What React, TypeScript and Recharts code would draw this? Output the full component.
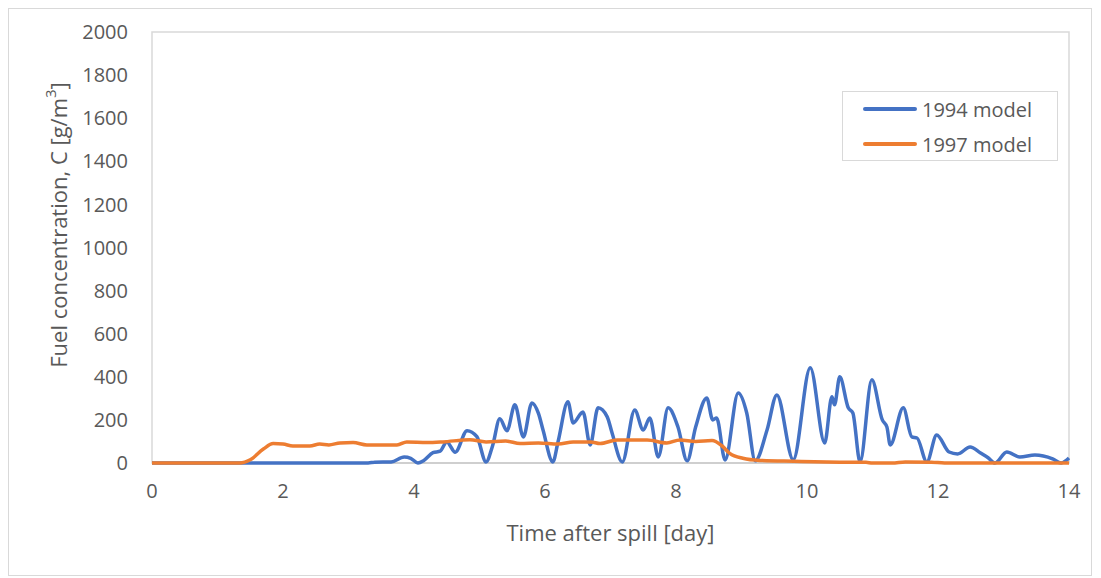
import React from "react";
import { LineChart, Line, XAxis, YAxis, Label, ReferenceArea } from "recharts";

const xTicks = [0, 2, 4, 6, 8, 10, 12, 14];
const yTicks = [0, 200, 400, 600, 800, 1000, 1200, 1400, 1600, 1800, 2000];

const blueTime = [
  0, 3.3, 3.4, 3.65, 3.85, 3.95, 4.06, 4.15, 4.29, 4.4, 4.5, 4.63, 4.81, 4.96, 5.1, 5.2, 5.31, 5.42, 5.54, 5.67,
  5.8, 5.9, 5.97, 6.12, 6.2, 6.35, 6.43, 6.58, 6.69, 6.81, 6.95, 7.02, 7.18, 7.37, 7.5, 7.6, 7.73, 7.88, 8.03,
  8.17, 8.3, 8.47, 8.56, 8.62, 8.75, 8.95, 9.08, 9.21, 9.39, 9.54, 9.79, 10.05, 10.27, 10.38, 10.42, 10.5, 10.63,
  10.7, 10.81, 10.99, 11.15, 11.22, 11.27, 11.47, 11.6, 11.68, 11.83, 11.98, 12.17, 12.3, 12.49, 12.65, 12.77,
  12.87, 13.05, 13.25, 13.48, 13.75, 13.88, 14,
];
const blueValue = [
  0, 0, 4, 5, 28, 22, 0, 12, 48, 55, 98, 50, 150, 122, 5, 80, 205, 150, 270, 121,
  279, 230, 153, 5, 100, 284, 186, 237, 84, 256, 214, 144, 5, 246, 153, 209, 28, 256, 167,
  10, 167, 302, 200, 209, 14, 325, 232, 10, 153, 316, 15, 442, 93, 307, 270, 400, 256,
  232, 5, 386, 200, 167, 84, 256, 121, 116, 5, 130, 51, 42, 74, 46, 23,
  0, 51, 28, 37, 19, 0, 23,
];

const orangeTime = [
  0, 1.34, 1.5, 1.7, 1.85, 2.0, 2.15, 2.41, 2.56, 2.7, 2.87, 3.07, 3.28, 3.74, 3.89, 4.2, 4.44, 4.85, 5.1, 5.4,
  5.62, 5.9, 6.2, 6.43, 6.7, 6.84, 7.1, 7.56, 7.86, 8.06, 8.3, 8.55, 8.7, 8.82, 9.02, 9.28, 9.8, 10.5, 10.9,
  11.0, 11.3, 11.5, 11.9, 12.1, 14,
];
const orangeValue = [
  0, 0, 15, 65, 90, 88, 79, 79, 88, 84, 93, 95, 84, 84, 98, 95, 98, 108, 98, 102,
  90, 93, 88, 98, 98, 90, 107, 107, 93, 107, 100, 104, 80, 45, 22, 12, 8, 4, 3,
  0, 0, 5, 4, 0, 0,
];

const series1994 = blueTime.map((t, i) => ({ t, c: blueValue[i] }));
const series1997 = orangeTime.map((t, i) => ({ t, c: orangeValue[i] }));

const FONT = "'Open Sans', sans-serif";
const TEXT = "#595959";
const BLUE = "#4472C4";
const ORANGE = "#ED7D31";
const BORDER = "#d9d9d9";

export default function App() {
  return (
    <div
      style={{
        position: "relative",
        width: 1082,
        height: 566,
        border: `1px solid ${BORDER}`,
        fontFamily: FONT,
        background: "#fff",
      }}
    >
      <LineChart width={1082} height={566} margin={{ top: 23, right: 22, left: 0, bottom: 32 }}>
        <ReferenceArea
          x1={0}
          x2={14}
          y1={0}
          y2={2000}
          fill="none"
          stroke={BORDER}
          strokeWidth={1.5}
          {...({ zIndex: -50 } as any)}
        />
        <XAxis
          type="number"
          dataKey="t"
          domain={[0, 14]}
          ticks={xTicks}
          height={80}
          tickLine={false}
          tickSize={0}
          tickMargin={21}
          axisLine={{ stroke: "#cfcfcf", strokeWidth: 2 }}
          tick={{ fill: TEXT, fontSize: 20, fontFamily: FONT }}
          {...({ zIndex: -40 } as any)}
        >
          <Label
            content={(props: any) => {
              const vb = props.viewBox || {};
              return (
                <text
                  x={vb.x + vb.width / 2}
                  y={vb.y + 69}
                  textAnchor="middle"
                  dominantBaseline="central"
                  fill={TEXT}
                  fontSize={22}
                  fontFamily={FONT}
                >
                  Time after spill [day]
                </text>
              );
            }}
          />
        </XAxis>
        <YAxis
          type="number"
          domain={[0, 2000]}
          ticks={yTicks}
          width={143}
          tickLine={false}
          tickSize={0}
          tickMargin={24}
          axisLine={false}
          tick={{ fill: TEXT, fontSize: 20, fontFamily: FONT }}
        >
          <Label
            content={() => {
              const cx = 49;
              const cy = 216;
              return (
                <text
                  x={cx}
                  y={cy}
                  transform={`rotate(-90 ${cx} ${cy})`}
                  textAnchor="middle"
                  dominantBaseline="central"
                  fill={TEXT}
                  fontSize={22}
                  fontFamily={FONT}
                >
                  Fuel concentration, C [g/m
                  <tspan dy={-8} fontSize={15}>3</tspan>
                  <tspan dy={8}>]</tspan>
                </text>
              );
            }}
          />
        </YAxis>
        <Line
          data={series1994}
          dataKey="c"
          name="1994 model"
          type="monotone"
          stroke={BLUE}
          strokeWidth={3.5}
          dot={false}
          activeDot={false}
          isAnimationActive={false}
          {...({ zIndex: 600 } as any)}
        />
        <Line
          data={series1997}
          dataKey="c"
          name="1997 model"
          type="monotone"
          stroke={ORANGE}
          strokeWidth={3.5}
          dot={false}
          activeDot={false}
          isAnimationActive={false}
          {...({ zIndex: 610 } as any)}
        />
      </LineChart>
      <div
        style={{
          position: "absolute",
          left: 833,
          top: 82,
          width: 214,
          height: 68,
          border: `1px solid ${BORDER}`,
          background: "#fff",
          color: TEXT,
          fontSize: 20,
          fontFamily: FONT,
        }}
      >
        {[
          { label: "1994 model", color: BLUE, y: 17 },
          { label: "1997 model", color: ORANGE, y: 52 },
        ].map((it) => (
          <div
            key={it.label}
            style={{ position: "absolute", left: 20, top: it.y - 14, height: 28, display: "flex", alignItems: "center" }}
          >
            <span style={{ display: "inline-block", width: 54, height: 4, borderRadius: 2, background: it.color }} />
            <span style={{ marginLeft: 5, whiteSpace: "nowrap" }}>{it.label}</span>
          </div>
        ))}
      </div>
    </div>
  );
}
